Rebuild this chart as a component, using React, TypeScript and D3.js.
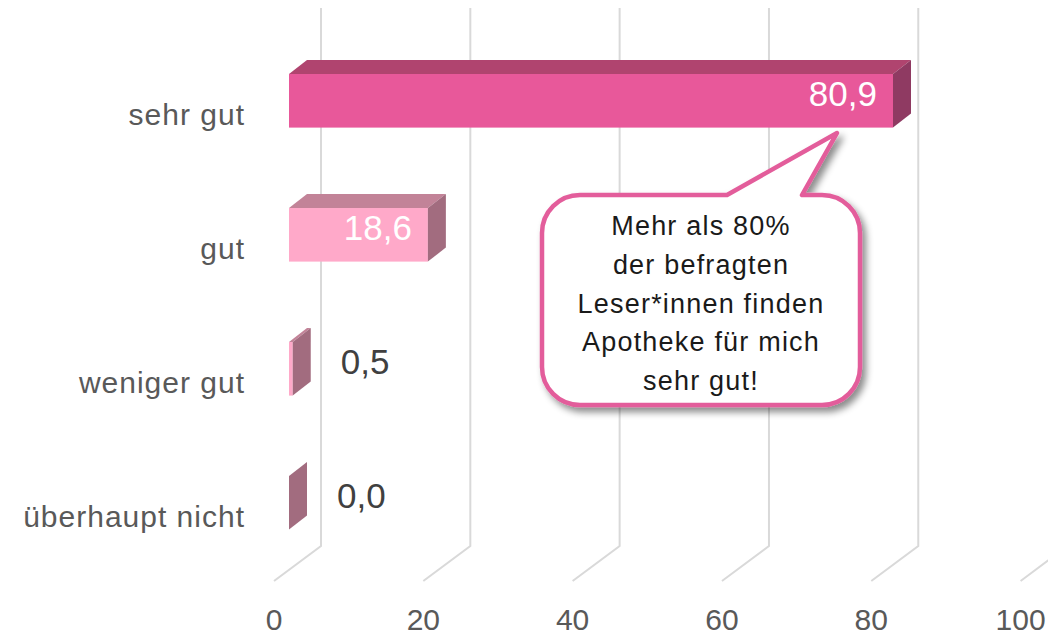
import { useRef, useEffect } from "react";
import * as d3 from "d3";

// Daten
const kategorien = ["sehr gut", "gut", "weniger gut", "überhaupt nicht"];
const werte = [80.9, 18.6, 0.5, 0.0];
const wertLabels = ["80,9", "18,6", "0,5", "0,0"];
const ticks = [0, 20, 40, 60, 80, 100];
const tickLabels = ["0", "20", "40", "60", "80", "100"];
const callout = [
  "Mehr als 80%",
  "der befragten",
  "Leser*innen finden",
  "Apotheke für mich",
  "sehr gut!",
];

const FONT = "'Liberation Sans', Arial, sans-serif";

const App = () => {
  const svgRef = useRef<SVGSVGElement | null>(null);

  useEffect(() => {
    const svg = d3.select(svgRef.current);
    svg.selectAll("*").remove();

    const width = 1048;
    const height = 637;
    svg.attr("width", width).attr("height", height);

    // 3D Versatz
    const dx = 18;
    const dy = -14;
    const unit = 7.466;

    // Skalen: Vorderseite, Rückwand, Boden-Vorderkante
    const x = d3.scaleLinear().domain([0, 100]).range([289, 289 + 100 * unit]);
    const xWall = d3.scaleLinear().domain([0, 100]).range([321, 321 + 100 * unit]);
    const xFloor = d3.scaleLinear().domain([0, 100]).range([274, 274 + 100 * unit]);

    const y = d3
      .scaleBand()
      .domain(kategorien)
      .range([33.8, 569.8])
      .paddingInner(0.6)
      .paddingOuter(0.3);
    const h = y.bandwidth();

    // Gitterlinien (Wand + Boden)
    const grid = svg.append("g");
    ticks.forEach((t) => {
      grid
        .append("path")
        .attr("d", `M${xWall(t)},8 L${xWall(t)},546 L${xFloor(t)},581`)
        .attr("fill", "none")
        .attr("stroke", "#d9d9d9")
        .attr("stroke-width", 2);
    });

    // Achsenbeschriftung
    svg
      .append("g")
      .selectAll("text")
      .data(ticks)
      .enter()
      .append("text")
      .attr("x", (d) => xFloor(d))
      .attr("y", 630)
      .attr("text-anchor", "middle")
      .attr("font-family", FONT)
      .attr("font-size", 30)
      .attr("fill", "#595959")
      .text((d, i) => tickLabels[i]);

    // Kategorien
    svg
      .append("g")
      .selectAll("text")
      .data(kategorien)
      .enter()
      .append("text")
      .attr("x", 245)
      .attr("y", (d) => (y(d) as number) + 51)
      .attr("text-anchor", "end")
      .attr("font-family", FONT)
      .attr("font-size", 30)
      .attr("letter-spacing", 1)
      .attr("fill", "#595959")
      .text((d) => d);

    // Balken in 3D
    const farben = [
      { front: "#e8589a", top: "#b0446f", side: "#8f3a62" },
      { front: "#ffa9c9", top: "#c28398", side: "#a26c7f" },
      { front: "#ffa9c9", top: "#c28398", side: "#a26c7f" },
      { front: "#ffa9c9", top: "#c28398", side: "#a26c7f" },
    ];

    const bars = svg.append("g");
    werte.forEach((v, i) => {
      const x0 = x(0);
      const x1 = x(v);
      const y0 = y(kategorien[i]) as number;
      const c = farben[i];
      const g = bars.append("g");
      if (x1 - x0 > 0.1) {
        g.append("rect")
          .attr("x", x0)
          .attr("y", y0)
          .attr("width", x1 - x0)
          .attr("height", h)
          .attr("fill", c.front);
        g.append("path")
          .attr(
            "d",
            `M${x0},${y0} L${x0 + dx},${y0 + dy} L${x1 + dx},${y0 + dy} L${x1},${y0} Z`
          )
          .attr("fill", c.top);
      }
      g.append("path")
        .attr(
          "d",
          `M${x1},${y0} L${x1 + dx},${y0 + dy} L${x1 + dx},${y0 + h + dy} L${x1},${y0 + h} Z`
        )
        .attr("fill", c.side);

      // Werte
      const innen = v > 10;
      g.append("text")
        .attr("x", innen ? x1 - 16 : x1 + dx + 30)
        .attr("y", y0 + (h + dy) / 2)
        .attr("dy", "0.36em")
        .attr("text-anchor", innen ? "end" : "start")
        .attr("font-family", FONT)
        .attr("font-size", 35)
        .attr("fill", innen ? "#ffffff" : "#404040")
        .text(wertLabels[i]);
    });

    // Sprechblase
    const defs = svg.append("defs");
    const f = defs
      .append("filter")
      .attr("id", "schatten")
      .attr("x", "-10%")
      .attr("y", "-10%")
      .attr("width", "130%")
      .attr("height", "130%");
    f.append("feDropShadow")
      .attr("dx", 4)
      .attr("dy", 5)
      .attr("stdDeviation", 3.5)
      .attr("flood-color", "#000")
      .attr("flood-opacity", 0.45);

    const L = 542;
    const R = 860;
    const T = 195;
    const B = 405;
    const r = 38;
    const tip = [837, 133];
    const blase = `M${L + r},${T} L727,${T} L${tip[0]},${tip[1]} L802,${T} L${R - r},${T}
      A${r},${r} 0 0 1 ${R},${T + r} L${R},${B - r}
      A${r},${r} 0 0 1 ${R - r},${B} L${L + r},${B}
      A${r},${r} 0 0 1 ${L},${B - r} L${L},${T + r}
      A${r},${r} 0 0 1 ${L + r},${T} Z`;
    svg
      .append("path")
      .attr("d", blase)
      .attr("fill", "#ffffff")
      .attr("stroke", "#e35d9b")
      .attr("stroke-width", 4.5)
      .attr("stroke-linejoin", "round")
      .attr("filter", "url(#schatten)");

    svg
      .append("g")
      .selectAll("text")
      .data(callout)
      .enter()
      .append("text")
      .attr("x", 701)
      .attr("y", (d, i) => 235 + i * 38.8)
      .attr("text-anchor", "middle")
      .attr("font-family", FONT)
      .attr("font-size", 27)
      .attr("letter-spacing", 1.2)
      .attr("fill", "#1a1a1a")
      .text((d) => d);
  }, []);

  return (
    <div>
      <svg ref={svgRef} style={{ position: "absolute", left: 0, top: 0 }}></svg>
    </div>
  );
};

export default App;
